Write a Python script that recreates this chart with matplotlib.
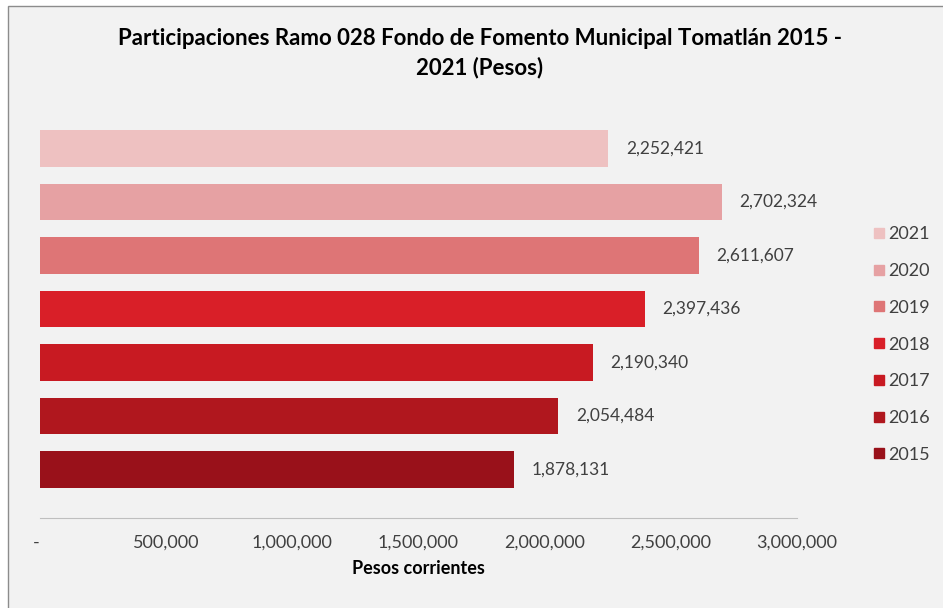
import matplotlib
matplotlib.use("Agg")
import matplotlib.pyplot as plt
from matplotlib.patches import Rectangle
from matplotlib.lines import Line2D

# datos
years = ["2015", "2016", "2017", "2018", "2019", "2020", "2021"]
values = [1878131, 2054484, 2190340, 2397436, 2611607, 2702324, 2252421]
colors = ["#99111A", "#B0171E", "#C81A22", "#D91F28", "#DE7576", "#E6A1A3", "#EEC1C1"]
xticks = [0, 500000, 1000000, 1500000, 2000000, 2500000, 3000000]
xticklabels = ["-", "500,000", "1,000,000", "1,500,000", "2,000,000", "2,500,000", "3,000,000"]

plt.rcParams['font.family'] = ['Lato', 'DejaVu Sans']
W, H = 943, 608
bg = "#F2F2F2"
txt = "#404040"

fig = plt.figure(figsize=(W/100, H/100), dpi=100)
fig.patch.set_facecolor("white")
# marco del grafico (recortado a la derecha y abajo)
frame = Rectangle((8/W, -0.05), 1.1, 1 - 6/H + 0.05, transform=fig.transFigure,
                  facecolor=bg, edgecolor="#8C8C8C", linewidth=1.0, zorder=-10)
fig.patches.append(frame)

ax = fig.add_axes([40/W, 1 - 518/H, (797-40)/W, (518-100)/H])
ax.patch.set_alpha(0)

pos = list(range(len(years)))
ax.barh(pos, values, height=0.69, color=colors)
for p, v in zip(pos, values):
    ax.text(v + 70000, p, f"{v:,}", va="center", ha="left", fontsize=12.5, color=txt)

ax.set_xlim(0, 3000000)
ax.set_ylim(-0.907, 6.907)
ax.set_yticks([])
ax.set_xticks(xticks)
ax.set_xticklabels(xticklabels, fontsize=13, color=txt)
ax.get_xticklabels()[0].set_horizontalalignment("right")
ax.tick_params(axis="x", length=0, pad=12)
for s in ["top", "right", "left"]:
    ax.spines[s].set_visible(False)
ax.spines["bottom"].set_color("#BFBFBF")
ax.set_xlabel("Pesos corrientes", fontsize=13, fontweight="bold", color="black", labelpad=7)

fig.text(480/W, 1 - 53/H,
         "Participaciones Ramo 028 Fondo de Fomento Municipal Tomatlán 2015 -\n2021 (Pesos)",
         ha="center", va="center", fontsize=16, fontweight="bold", color="black",
         linespacing=1.45)

handles = [Line2D([], [], marker="s", linestyle="none", markersize=7.5, color=c)
           for c in colors[::-1]]
fig.legend(handles, years[::-1], loc="center left", bbox_to_anchor=(866/W, 1 - 344.5/H),
           frameon=False, fontsize=13, handlelength=0.6, handletextpad=0.25,
           labelspacing=1.15, labelcolor=txt, borderaxespad=0)

fig.savefig("out.png", dpi=100, facecolor="white")
